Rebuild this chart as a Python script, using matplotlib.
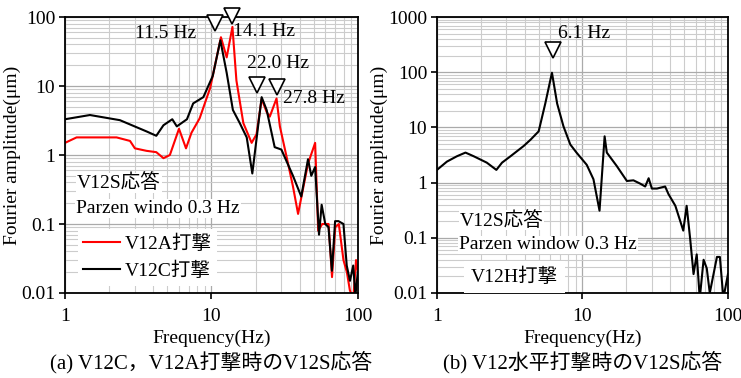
import matplotlib

matplotlib.use("Agg")
import matplotlib.pyplot as plt
import numpy as np

plt.rcParams.update(
    {
        "font.family": ["Liberation Serif", "Noto Sans CJK JP"],
        "font.size": 14,
        "axes.linewidth": 1.3,
        "xtick.direction": "out",
        "ytick.direction": "out",
        "xtick.major.size": 4,
        "ytick.major.size": 4,
        "xtick.minor.size": 0,
        "ytick.minor.size": 0,
    }
)

# ── (a) V12S response, V12C / V12A impacts ──────────────────────────────────
freq_a_red = [1.0, 1.2, 1.6, 2.25, 2.78, 3.0, 3.6, 4.2, 4.7, 5.2, 6.0, 6.7, 7.3,
              8.3, 9.8, 11.6, 12.7, 13.9, 14.8, 16.5, 18.8, 20.3, 22.0, 23.8,
              25.0, 27.8, 29.3, 32.6, 36.0, 39.0, 45.6, 51.0, 53.5, 57.0, 60.0,
              63.0, 66.5, 70.0, 74.0, 79.6, 84.0, 88.0, 92.8, 97.0, 100.0]
amp_a_red = [1.5, 1.8, 1.8, 1.8, 1.6, 1.25, 1.15, 1.1, 0.9, 1.0, 2.4, 1.25, 2.1,
             3.4, 9.4, 51, 26, 72, 12, 2.9, 1.5, 2.0, 6.5, 4.2, 3.6, 6.6, 2.6,
             0.93, 0.35, 0.14, 0.75, 1.5, 0.08, 0.1, 0.1, 0.1, 0.017, 0.09,
             0.1, 0.03, 0.02, 0.011, 0.008, 0.03, 0.02]

freq_a_blk = [1.0, 1.48, 2.37, 3.6, 4.2, 4.7, 5.4, 5.8, 6.8, 7.5, 8.8, 10.2,
              11.5, 12.7, 14.0, 15.6, 17.4, 19.0, 22.0, 23.8, 27.0, 30.0, 36.0,
              41.0, 45.6, 48.0, 51.0, 54.2, 56.5, 59.8, 62.9, 66.4, 69.8, 73.6,
              79.6, 83.8, 88.2, 92.8, 96.0, 99.7]
amp_a_blk = [3.3, 3.8, 3.2, 2.2, 1.9, 2.7, 3.3, 2.6, 3.3, 5.6, 6.9, 14, 46,
             15.5, 4.5, 2.9, 1.8, 0.54, 6.9, 4.5, 1.3, 1.2, 0.5, 0.25, 0.87,
             0.5, 0.67, 0.07, 0.19, 0.1, 0.09, 0.021, 0.11, 0.11, 0.1, 0.025,
             0.015, 0.025, 0.009, 0.02]

# ── (b) V12S response, V12H impact ──────────────────────────────────────────
freq_b = [1.0, 1.17, 1.37, 1.57, 1.79, 2.2, 2.56, 2.8, 3.2, 3.94, 4.4, 5.0,
          5.55, 6.17, 6.7, 7.4, 8.25, 9.1, 10.7, 11.9, 13.1, 14.2, 14.7, 17.2,
          20.2, 22.4, 24.9, 27.0, 28.5, 30.0, 32.5, 37.0, 39.0, 43.5, 49.3,
          52.0, 55.0, 58.0, 61.0, 64.0, 68.0, 71.5, 75.0, 84.0, 88.0, 93.0,
          100.0]
amp_b = [1.7, 2.4, 3.0, 3.5, 3.0, 2.3, 1.7, 2.3, 3.0, 4.6, 6.0, 8.5, 27, 98,
         27, 10.5, 4.9, 3.5, 2.1, 1.15, 0.31, 6.9, 3.5, 2.0, 1.07, 1.1, 0.96,
         0.85, 1.2, 0.78, 0.78, 0.85, 0.62, 0.38, 0.135, 0.38, 0.095, 0.022,
         0.05, 0.008, 0.04, 0.028, 0.01, 0.045, 0.045, 0.008, 0.022]


def style_axes(ax, ymin, ymax):
    ax.set_xscale("log")
    ax.set_yscale("log")
    ax.set_xlim(1, 100)
    ax.set_ylim(ymin, ymax)
    ax.grid(which="major", color="#aaaaaa", lw=0.9)
    ax.grid(which="minor", color="#cccccc", lw=0.8)
    ax.set_axisbelow(True)
    ax.set_xticks([1, 10, 100])
    ax.set_xticklabels(["1", "10", "100"])
    ticks = [10.0 ** k for k in range(int(np.log10(ymin)), int(np.log10(ymax)) + 1)]
    ax.set_yticks(ticks)
    ax.set_yticklabels([f"{t:g}" for t in ticks])
    ax.tick_params(labelsize=14, width=1.2, pad=3)
    ax.tick_params(axis="x", pad=7)
    ax.set_xlabel("Frequency(Hz)", fontsize=14, labelpad=3)
    ax.set_ylabel("Fourier amplitude(μm)", fontsize=14, labelpad=0)


fig = plt.figure(figsize=(7.41, 3.78), dpi=100)
ax1 = fig.add_axes([0.0877, 0.2249, 0.3954, 0.730])
ax2 = fig.add_axes([0.5897, 0.2249, 0.3927, 0.730])

style_axes(ax1, 0.01, 100)
l1, = ax1.plot(freq_a_red, amp_a_red, color="red", lw=1.5, label="V12A打撃")
l2, = ax1.plot(freq_a_blk, amp_a_blk, color="black", lw=1.5, label="V12C打撃")

tri = dict(marker="v", ms=11, mfc="white", mec="black", mew=1.2, ls="none",
           clip_on=False, zorder=5)
ax1.plot([10.6, 13.9, 20.4, 28.1], [82, 103, 10.3, 9.6], **tri)
ax1.text(0.239, 0.942, "11.5 Hz", transform=ax1.transAxes, va="center")
ax1.text(0.573, 0.947, "14.1 Hz", transform=ax1.transAxes, va="center")
ax1.text(0.620, 0.832, "22.0 Hz", transform=ax1.transAxes, va="center")
ax1.text(0.745, 0.705, "27.8 Hz", transform=ax1.transAxes, va="center")
box = dict(fc="white", ec="none", pad=0.5)
ax1.text(0.041, 0.399, "V12S応答", transform=ax1.transAxes, va="center", bbox=box)
ax1.text(0.038, 0.307, "Parzen windo 0.3 Hz", transform=ax1.transAxes,
         va="center", bbox=box)
leg = ax1.legend(handles=[l1, l2], loc="lower left", bbox_to_anchor=(0.01, -0.01),
                 frameon=True, fancybox=False, framealpha=1, edgecolor="none",
                 facecolor="white", fontsize=14, handlelength=1.9,
                 borderpad=0.3, labelspacing=0.45, handletextpad=0.2)

style_axes(ax2, 0.01, 1000)
ax2.plot(freq_b, amp_b, color="black", lw=1.5)
ax2.plot([6.27], [251], **tri)
ax2.text(0.417, 0.942, "6.1 Hz", transform=ax2.transAxes, va="center")
ax2.text(0.077, 0.264, "V12S応答", transform=ax2.transAxes, va="center", bbox=box)
ax2.text(0.076, 0.174, "Parzen window 0.3 Hz", transform=ax2.transAxes,
         va="center", bbox=box)
ax2.text(0.265, 0.059, "V12H打撃", transform=ax2.transAxes, va="center",
         ha="center", bbox=dict(fc="white", ec="none", pad=5))

fig.text(0.2855, 0.042, "(a) V12C，V12A打撃時のV12S応答", ha="center",
         va="center", fontsize=15)
fig.text(0.786, 0.042, "(b) V12水平打撃時のV12S応答", ha="center",
         va="center", fontsize=15)

fig.savefig("out.png", dpi=100)
